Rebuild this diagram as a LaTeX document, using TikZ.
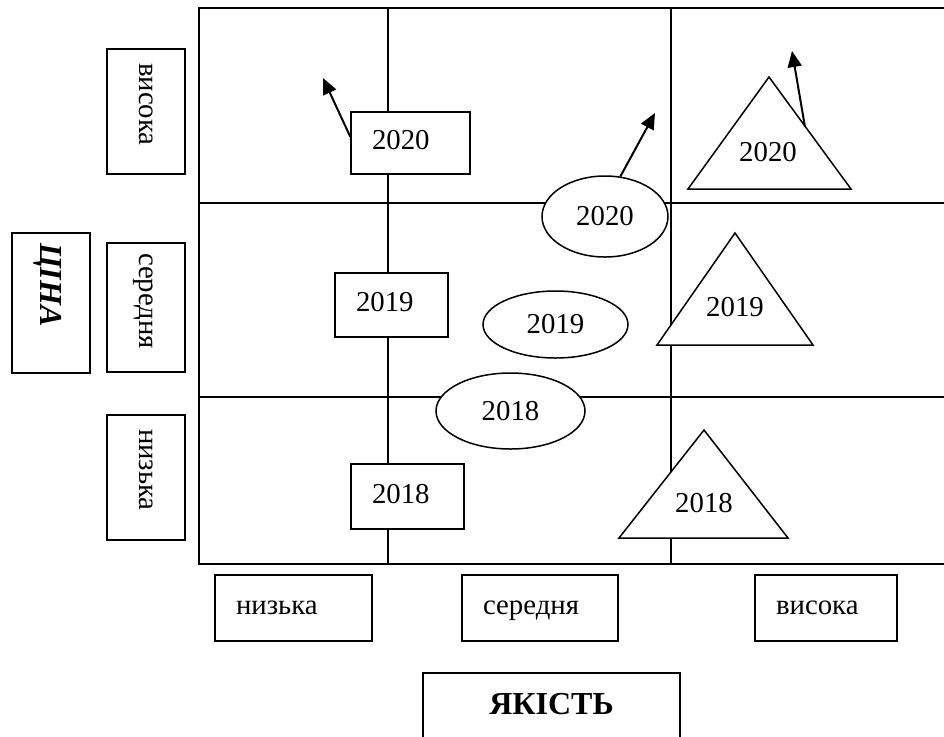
\documentclass[tikz,border=0pt]{standalone}
\usepackage{fontspec}
\setmainfont{Liberation Serif}
\usetikzlibrary{shapes.geometric,arrows.meta}

\begin{document}
\begin{tikzpicture}[
  x=0.5pt, y=-0.5pt,
  every node/.style={font=\fontsize{14.4}{17}\selectfont},
  gridline/.style={line width=1pt},
  box/.style={draw, fill=white, line width=0.75pt, align=left, inner xsep=10.5pt, inner ysep=0pt, text height=10pt, text depth=3.5pt},
  vbox/.style={draw, fill=white, line width=0.75pt, rotate=-90, minimum height=39pt, inner ysep=0pt, inner xsep=5pt, align=left, text height=10pt, text depth=3.5pt},
  oval/.style={draw, fill=white, ellipse, line width=0.75pt, inner sep=0pt},
  tri/.style={draw, fill=white, line width=0.75pt},
  arr/.style={-{Triangle[length=8pt,width=7pt]}, line width=1pt}
]
\useasboundingbox (0,0) rectangle (944,736);
% matrix of quality x price
\draw[gridline] (950,8) -- (198.5,8) -- (198.5,564) -- (950,564);
\draw[gridline] (388,8) -- (388,564);
\draw[gridline] (671,8) -- (671,564);
\draw[gridline] (198.5,203) -- (950,203);
\draw[gridline] (198.5,397) -- (950,397);
% rectangles
\node[box, text width=38.5pt, minimum height=31pt] (r20) at (410.5,143) {2020};
\node[box, text width=35.5pt, minimum height=32pt] (r19) at (391.5,305) {2019};
\node[box, text width=35.5pt, minimum height=32.5pt] (r18) at (407.5,496.5) {2018};
% ellipses
\node[oval, minimum width=63pt, minimum height=40.5pt] (e20) at (605,216.5) {2020};
\node[oval, minimum width=72.5pt, minimum height=33.5pt] (e19) at (555.5,324.5) {2019};
\node[oval, minimum width=74.5pt, minimum height=38pt] (e18) at (510.5,411) {2018};
% triangles
\draw[tri] (769,77) -- (851,189) -- (688,189) -- cycle;
\node (t20) at (768,152) {2020};
\draw[tri] (735,233) -- (813,345) -- (657,345) -- cycle;
\node (t19) at (735,307) {2019};
\draw[tri] (704,430) -- (788,538) -- (619,538) -- cycle;
\node (t18) at (704,503) {2018};
% arrows
\coordinate (r20tip) at (323,78);
\coordinate (e20tip) at (655,113);
\coordinate (t20foot) at (805,127);
\coordinate (t20tip) at (792,51);
\draw[arr] (r20.174) -- (r20tip);
\draw[arr] (e20.69) -- (e20tip);
\draw[arr] (t20foot) -- (t20tip);
% price axis
\node[vbox, text width=52.5pt] (pHigh) at (146,111.5) {\hspace*{2pt}висока};
\node[vbox, text width=54.5pt] (pMid) at (146,307.5) {середня};
\node[vbox, text width=52.5pt] (pLow) at (146,477.5) {\hspace*{2pt}низька};
\node[vbox, text width=60pt, text height=11pt, text depth=0pt,
  font=\fontsize{16}{19}\selectfont\bfseries\itshape] (price) at (51,303) {ЦІНА};
% quality axis
\node[box, text width=57.5pt, minimum height=33pt] (qLow) at (293.5,608) {низька};
\node[box, text width=57pt, minimum height=33pt] (qMid) at (540,608) {середня};
\node[box, text width=50pt, minimum height=33pt] (qHigh) at (826,608) {висока};
\node[draw, line width=0.75pt, anchor=north, minimum width=128.5pt, text height=11pt, text depth=30pt, inner ysep=10pt,
  font=\fontsize{16}{19}\selectfont\bfseries] (quality) at (551.5,672) {ЯКІСТЬ};
\end{tikzpicture}
\end{document}
